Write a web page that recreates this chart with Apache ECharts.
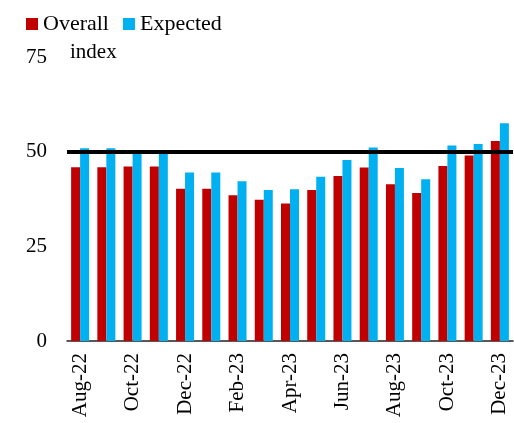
<!DOCTYPE html>
<html>
<head>
<meta charset="utf-8">
<script src="https://cdn.jsdelivr.net/npm/echarts@6/dist/echarts.min.js"></script>
<style>
  html, body { margin: 0; padding: 0; background: #fff; }
  #chart { width: 514px; height: 423px; }
</style>
</head>
<body>
<div id="chart"></div>
<script>
const months = ["Aug-22", "Sep-22", "Oct-22", "Nov-22", "Dec-22", "Jan-23", "Feb-23", "Mar-23",
    "Apr-23", "May-23", "Jun-23", "Jul-23", "Aug-23", "Sep-23", "Oct-23", "Nov-23", "Dec-23"]
const overall = [45.9, 45.9, 46.1, 46.1, 40.2, 40.2, 38.5, 37.3, 36.3, 39.9, 43.6, 45.8, 41.4, 39.1, 46.2, 49.0, 52.8]
const expected = [50.9, 50.9, 49.8, 49.8, 44.5, 44.5, 42.2, 39.9, 40.1, 43.4, 47.8, 51.1, 45.7, 42.7, 51.6, 52.0, 57.5]
const threshold = 50

const font = "'Liberation Serif', serif"
let chartDom = document.getElementById('chart')
let myChart = echarts.init(chartDom, null, {renderer: 'canvas'})

let option = {
    animation: false,
    textStyle: {fontFamily: font, color: '#000'},
    legend: {
        left: 21,
        top: 8,
        itemWidth: 12,
        itemHeight: 12,
        itemGap: 14,
        icon: 'rect',
        textStyle: {fontFamily: font, fontSize: 22, color: '#000'},
        data: ['Overall', 'Expected']
    },
    grid: {left: 67, right: 1, top: 57, bottom: 82},
    xAxis: {
        type: 'category',
        data: months,
        axisLine: {lineStyle: {color: '#222', width: 1.5}},
        axisTick: {show: false},
        axisLabel: {
            interval: 1,
            rotate: 90,
            fontFamily: font,
            fontSize: 21,
            color: '#000',
            margin: 12
        }
    },
    yAxis: {
        type: 'value',
        min: 0,
        max: 75,
        interval: 25,
        name: 'index',
        nameLocation: 'end',
        nameGap: 5,
        nameTextStyle: {fontFamily: font, fontSize: 21, color: '#000', align: 'left', verticalAlign: 'middle', padding: [0, 0, 0, 3]},
        axisLine: {show: false},
        axisTick: {show: false},
        splitLine: {show: false},
        axisLabel: {fontFamily: font, fontSize: 21, color: '#000', margin: 20}
    },
    series: [
        {
            name: 'Overall',
            type: 'bar',
            data: overall,
            barWidth: 9,
            barGap: '0%',
            itemStyle: {color: '#C00000'},
            markLine: {
                silent: true,
                symbol: 'none',
                label: {show: false},
                lineStyle: {color: '#000', width: 4, type: 'solid'},
                data: [{yAxis: threshold}]
            },
            z: 2
        },
        {
            name: 'Expected',
            type: 'bar',
            data: expected,
            barWidth: 9,
            itemStyle: {color: '#00B0F0'},
            z: 2
        }
    ]
}
myChart.setOption(option)
</script>
</body>
</html>
